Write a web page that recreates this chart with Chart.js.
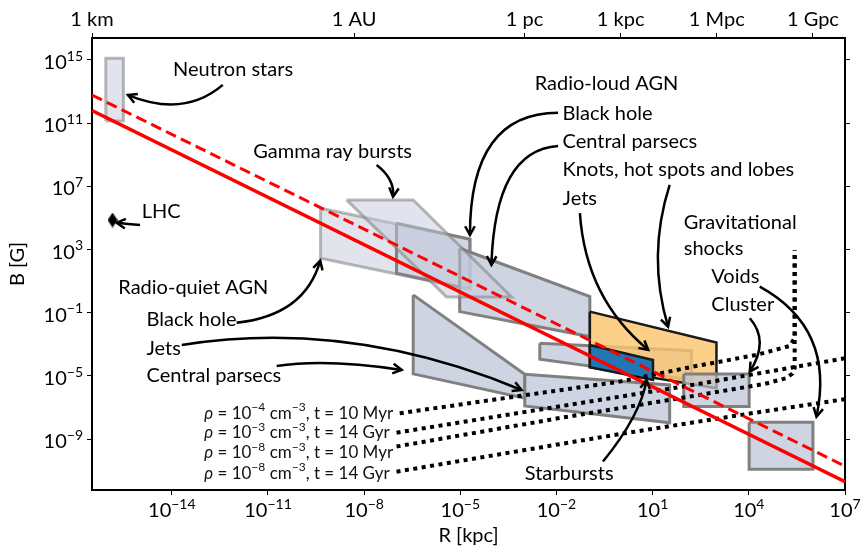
<!DOCTYPE html>
<html>
<head>
<meta charset="utf-8">
<title>Hillas plot</title>
<script src="https://cdn.jsdelivr.net/npm/chart.js"></script>
<style>
  body { margin: 0; background: #fff; }
  canvas { display: block; }
</style>
</head>
<body>
<canvas id="hillas" width="860" height="554"></canvas>
<script>
// all values are log10(R / kpc) and log10(B / G)
const xMinExp = -16.49, xMaxExp = 7;
const yMinExp = -12.22, yMaxExp = 16.39;
const xTickExps = [-14, -11, -8, -5, -2, 1, 4, 7];
const yTickExps = [15, 11, 7, 3, -1, -5, -9];
const topTickNames = ['1 km', '1 AU', '1 pc', '1 kpc', '1 Mpc', '1 Gpc'];
const topTickKpc = [3.2408e-17, 4.8481e-9, 1e-3, 1, 1e3, 1e6];

// Hillas condition
const hillasR = [-16.49, 7];
const hillasB = [11.79, -11.70];
const hillasDashedB = [12.78, -10.71];

// source regions (polygon corners)
const neutronStarR = [-16.06, -15.51, -15.51, -16.06];
const neutronStarB = [11.14, 11.14, 15.11, 15.11];
const grbR = [-8.55, -6.47, -3.40, -5.43];
const grbB = [6.14, 6.14, 0.0, 0.0];
const rqBlackHoleR = [-9.36, -4.70, -4.70, -9.36];
const rqBlackHoleB = [5.61, 3.65, 0.49, 2.45];
const rqBlackHole2R = [-6.99, -4.70, -4.70, -6.99];
const rqBlackHole2B = [4.66, 3.65, 0.49, 1.50];
const rqCentralR = [-6.47, -2.99, -2.99, -6.47];
const rqCentralB = [0.13, -4.89, -6.41, -4.87];
const rqJetsR = [-2.99, 1.53, 1.53, -2.99];
const rqJetsB = [-4.89, -5.57, -7.96, -6.90];
const rlBlackHoleR = [-5.02, -0.96, -0.96, -5.02];
const rlBlackHoleB = [3.08, 0.02, -2.51, -0.93];
const starburstR = [-2.52, 2.21, 2.21, -2.52];
const starburstB = [-2.93, -3.40, -5.25, -3.94];
const lobesR = [-0.96, 2.99, 2.99, -0.96];
const lobesB = [-0.93, -2.89, -5.78, -4.45];
const rlJetsR = [-0.96, 1.01, 1.01, -0.96];
const rlJetsB = [-3.04, -3.99, -5.25, -4.45];
const clusterR = [1.97, 4.01, 4.01, 1.97];
const clusterB = [-4.87, -4.87, -6.94, -6.94];
const voidR = [4.01, 6.0, 6.0, 4.01];
const voidB = [-7.93, -7.93, -10.91, -10.91];
const lhcR = [-15.85];
const lhcB = [4.87];

// gravitational shock curves
const shock1R = [-6.89, -0.03, 2.26, 4.24, 5.28, 5.43, 5.43];
const shock1B = [-7.36, -5.36, -4.41, -3.67, -3.10, -2.6, 2.97];
const shock2R = [-6.99, 2.16, 7];
const shock2B = [-8.59, -5.6, -3.88];
const shock3R = [-6.99, -2, 2.47, 4.5, 5.15, 5.36, 5.43, 5.43];
const shock3B = [-9.47, -7.7, -6.2, -5.5, -5.15, -4.85, -4.5, 2.97];
const shock4R = [-6.99, -0.03, 4.03, 7];
const shock4B = [-11.06, -8.68, -7.38, -6.47];

// annotations: text anchors (left, middle) and arrows [r0, b0, rCtrl, bCtrl, r1, b1]
const labelText = ['Neutron stars', 'LHC', 'Gamma ray bursts', 'Radio-quiet AGN', 'Black hole', 'Jets',
  'Central parsecs', 'Radio-loud AGN', 'Black hole', 'Central parsecs', 'Knots, hot spots and lobes', 'Jets',
  'Gravitational', 'shocks', 'Voids', 'Cluster', 'Starbursts'];
const labelR = [-13.96, -14.94, -11.46, -15.67, -14.79, -14.79, -14.79, -2.68, -1.81, -1.81, -1.81, -1.81,
  1.97, 1.97, 2.83, 2.83, -2.99];
const labelB = [14.37, 5.40, 9.20, 0.57, -1.46, -3.25, -5.0, 13.53, 11.63, 9.83, 8.04, 6.25,
  4.70, 3.08, 1.28, -0.51, -11.16];
const arrows = [
  [-12.41, 13.42, -13.61, 11.33, -15.37, 12.78],
  [-14.99, 4.56, -15.37, 4.62, -15.72, 4.70],
  [-7.61, 8.35, -7.04, 7.46, -7.10, 6.35],
  [-11.98, -1.63, -9.85, -1.17, -9.37, 2.30],
  [-13.69, -3.04, -8.44, -1.36, -3.09, -5.89],
  [-10.73, -4.37, -9.17, -3.89, -6.83, -4.62],
  [-1.95, 11.66, -4.70, 11.65, -4.70, 3.92],
  [-1.95, 9.56, -3.92, 9.30, -4.03, 2.03],
  [1.53, 7.09, 0.82, 2.59, 1.48, -1.88],
  [-1.27, 5.30, -1.09, -0.10, 0.86, -3.35],
  [4.34, 0.65, 6.70, -1.98, 6.11, -7.58],
  [4.03, -1.35, 4.65, -2.78, 4.03, -4.73],
  [-0.55, -10.42, 0.63, -7.47, 0.81, -5.25]
];
const shockLabelB = [-7.32, -8.53, -9.83, -11.12];
const shockRho = ['\u22124', '\u22123', '\u22128', '\u22128'];
const shockTime = ['10 Myr', '14 Gyr', '10 Myr', '14 Gyr'];

const FONT = 'Lato, "DejaVu Sans", sans-serif';
const pow = e => Math.pow(10, e);
const toXY = (rs, bs) => rs.map((r, i) => ({ x: pow(r), y: pow(bs[i]) }));

const LIGHT = 'rgba(195,201,219,0.5)', LIGHT_EDGE = 'rgba(128,128,128,0.55)';
const MID = 'rgba(190,198,216,0.75)', MID_EDGE = '#808080';

function region(rs, bs, fill, edge, width) {
  const pts = toXY(rs, bs);
  pts.push(pts[0]);
  return { data: pts, fill: 'shape', backgroundColor: fill, borderColor: edge, borderWidth: width,
    pointRadius: 0, tension: 0, borderJoinStyle: 'miter' };
}
function curve(rs, bs, color, width, dash) {
  return { data: toXY(rs, bs), fill: false, borderColor: color, borderWidth: width, borderDash: dash,
    borderCapStyle: 'butt', pointRadius: 0, tension: 0 };
}

// thin diamond marker for the LHC point
const diamond = document.createElement('canvas');
diamond.width = 10; diamond.height = 15;
(function () {
  const g = diamond.getContext('2d');
  g.fillStyle = '#000';
  g.beginPath(); g.moveTo(5, 0); g.lineTo(10, 7.5); g.lineTo(5, 15); g.lineTo(0, 7.5); g.closePath(); g.fill();
})();

const datasets = [
  region(rqBlackHoleR, rqBlackHoleB, LIGHT, LIGHT_EDGE, 3),
  region(rqBlackHole2R, rqBlackHole2B, LIGHT, MID_EDGE, 3),
  region(rlBlackHoleR, rlBlackHoleB, MID, MID_EDGE, 3),
  region(grbR, grbB, LIGHT, LIGHT_EDGE, 3),
  region(rqCentralR, rqCentralB, MID, MID_EDGE, 3),
  region(rqJetsR, rqJetsB, MID, MID_EDGE, 3),
  region(starburstR, starburstB, MID, MID_EDGE, 3),
  region(lobesR, lobesB, 'rgba(252,196,109,0.8)', '#1a1a1a', 2.5),
  region(rlJetsR, rlJetsB, 'rgb(31,119,180)', '#1a1a1a', 2.5),
  region(clusterR, clusterB, MID, MID_EDGE, 3),
  region(voidR, voidB, MID, MID_EDGE, 3),
  region(neutronStarR, neutronStarB, LIGHT, LIGHT_EDGE, 3),
  curve(shock1R, shock1B, '#000', 4, [4, 4.5]),
  curve(shock2R, shock2B, '#000', 4, [4, 4.5]),
  curve(shock3R, shock3B, '#000', 4, [4, 4.5]),
  curve(shock4R, shock4B, '#000', 4, [4, 4.5]),
  curve(hillasR, hillasDashedB, '#ff0000', 3, [11, 5.5]),
  curve(hillasR, hillasB, '#ff0000', 3.5, []),
  { data: toXY(lhcR, lhcB), showLine: false, pointStyle: diamond, pointRadius: 6 }
];
datasets.forEach((d, i) => { d.order = datasets.length - i; });

function fontFor(kind, size) {
  if (kind === 's') return Math.round(size * 0.7) + 'px ' + FONT;
  if (kind === 'i') return 'italic ' + size + 'px ' + FONT;
  return size + 'px ' + FONT;
}
function drawParts(ctx, parts, x, y, align, size) {
  const widths = parts.map(p => { ctx.font = fontFor(p[1], size); return ctx.measureText(p[0]).width; });
  const total = widths.reduce((a, b) => a + b, 0);
  let cx = align === 'right' ? x - total : align === 'center' ? x - total / 2 : x;
  ctx.textAlign = 'left';
  ctx.textBaseline = 'alphabetic';
  parts.forEach((p, i) => {
    ctx.font = fontFor(p[1], size);
    ctx.fillText(p[0], cx, p[1] === 's' ? y - size * 0.42 : y);
    cx += widths[i];
  });
}
const expText = e => (e < 0 ? '\u2212' : '') + Math.abs(e);

const decor = {
  id: 'decor',
  afterDatasetsDraw(chart) {
    const ctx = chart.ctx, xs = chart.scales.x, ys = chart.scales.y;
    const px = r => xs.getPixelForValue(pow(r));
    const py = b => ys.getPixelForValue(pow(b));
    ctx.save();
    ctx.fillStyle = '#000';
    ctx.strokeStyle = '#000';

    // arrows
    ctx.lineWidth = 2.5;
    ctx.lineJoin = 'miter';
    ctx.lineCap = 'butt';
    arrows.forEach(a => {
      const x0 = px(a[0]), y0 = py(a[1]), xc = px(a[2]), yc = py(a[3]), x1 = px(a[4]), y1 = py(a[5]);
      ctx.beginPath(); ctx.moveTo(x0, y0); ctx.quadraticCurveTo(xc, yc, x1, y1); ctx.stroke();
      const ang = Math.atan2(y1 - yc, x1 - xc), L = 10, W = 0.5;
      ctx.beginPath();
      ctx.moveTo(x1 - L * Math.cos(ang - W), y1 - L * Math.sin(ang - W));
      ctx.lineTo(x1, y1);
      ctx.lineTo(x1 - L * Math.cos(ang + W), y1 - L * Math.sin(ang + W));
      ctx.stroke();
    });

    // labels
    ctx.font = '20px ' + FONT;
    ctx.textAlign = 'left';
    ctx.textBaseline = 'middle';
    labelText.forEach((t, i) => ctx.fillText(t, px(labelR[i]), py(labelB[i])));

    // shock curve labels
    ctx.fillStyle = '#111';
    shockLabelB.forEach((b, i) => {
      drawParts(ctx, [['\u03c1', 'i'], [' = 10', ''], [shockRho[i], 's'], [' cm', ''], ['\u22123', 's'],
        [', t = ' + shockTime[i], '']], px(-12.99), py(b) + 6, 'left', 17);
    });
    ctx.restore();
  },
  afterDraw(chart) {
    const ctx = chart.ctx, xs = chart.scales.x, ys = chart.scales.y, area = chart.chartArea;
    ctx.save();
    ctx.fillStyle = '#000';
    xTickExps.forEach(e => drawParts(ctx, [['10', ''], [expText(e), 's']], xs.getPixelForValue(pow(e)), area.bottom + 27, 'center', 20));
    yTickExps.forEach(e => drawParts(ctx, [['10', ''], [expText(e), 's']], area.left - 9, ys.getPixelForValue(pow(e)) + 9, 'right', 20));
    ctx.font = '20px ' + FONT;
    ctx.textAlign = 'center';
    ctx.textBaseline = 'alphabetic';
    topTickKpc.forEach((v, i) => ctx.fillText(topTickNames[i], xs.getPixelForValue(v), area.top - 12));
    ctx.fillText('R [kpc]', (area.left + area.right) / 2, 542);
    ctx.translate(24, (area.top + area.bottom) / 2);
    ctx.rotate(-Math.PI / 2);
    ctx.fillText('B [G]', 0, 0);
    ctx.restore();
  }
};

function logAxis(axis, position, lo, hi, tickVals, size) {
  return {
    type: 'logarithmic', axis: axis, position: position, bounds: 'data',
    min: pow(lo), max: pow(hi),
    ticks: { display: false },
    grid: { display: true, drawOnChartArea: false, drawTicks: true, tickLength: 5, tickColor: '#000', tickWidth: 1 },
    border: { display: true, color: '#000', width: 2 },
    afterBuildTicks: s => { s.ticks = tickVals.map(v => ({ value: v })); },
    afterFit: s => { if (axis === 'x') s.height = size; else s.width = size; }
  };
}

new Chart(document.getElementById('hillas'), {
  type: 'line',
  data: { datasets: datasets },
  options: {
    responsive: false,
    animation: false,
    events: [],
    layout: { padding: 0 },
    plugins: { legend: { display: false }, tooltip: { enabled: false } },
    scales: {
      x: logAxis('x', 'bottom', xMinExp, xMaxExp, xTickExps.map(pow), 64),
      x2: logAxis('x', 'top', xMinExp, xMaxExp, topTickKpc, 38),
      y: logAxis('y', 'left', yMinExp, yMaxExp, yTickExps.map(pow), 92),
      y2: logAxis('y', 'right', yMinExp, yMaxExp, yTickExps.map(pow), 15)
    }
  },
  plugins: [decor]
});
</script>
</body>
</html>
